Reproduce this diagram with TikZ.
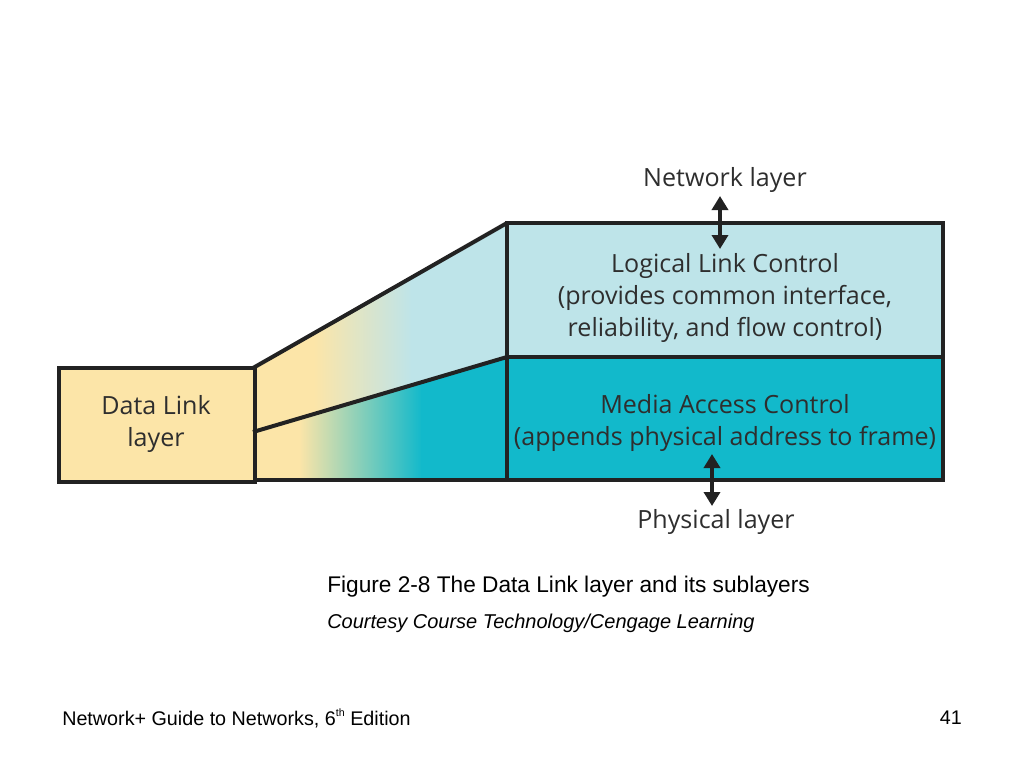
\documentclass[tikz,border=0pt]{standalone}
\usepackage{fontspec}
\setmainfont{Liberation Sans}
\newfontfamily\figfont{Open Sans}
\usetikzlibrary{arrows.meta}
\definecolor{yel}{HTML}{FCE5A8}
\definecolor{lcyan}{HTML}{BEE4E9}
\definecolor{tealc}{HTML}{12B9CB}
\definecolor{ink}{HTML}{2E2E2E}
\definecolor{edge}{HTML}{222222}
\begin{document}
\begin{tikzpicture}[x=0.75pt,y=-0.75pt,
  lbl/.style={font=\figfont\fontsize{18.8}{24.3}\selectfont, text=ink, align=center, inner sep=0pt},
  frame/.style={draw=edge, line width=3pt, line join=miter},
  biarrow/.style={{Triangle[width=12pt,length=10.5pt]}-{Triangle[width=12pt,length=10.5pt]}, line width=3pt, draw=edge},
  captext/.style={font=\fontsize{17}{20}\selectfont, anchor=west, inner sep=0pt}]
\useasboundingbox (0,0) rectangle (1024,768);
% upper trapezoid shading
\begin{scope}
  \clip (253,368) -- (507,223) -- (507,357) -- (253,432) -- cycle;
  \fill[yel] (250,220) rectangle (315,440);
  \shade[left color=yel, right color=lcyan] (314,220) rectangle (412,440);
  \fill[lcyan] (411,220) rectangle (510,440);
\end{scope}
% lower trapezoid shading
\begin{scope}
  \clip (253,432) -- (507,357) -- (507,480) -- (253,480) -- cycle;
  \fill[yel] (250,350) rectangle (300,485);
  \shade[left color=yel, right color=tealc] (299,350) rectangle (422,485);
  \fill[tealc] (421,350) rectangle (510,485);
\end{scope}
% right boxes
\fill[lcyan] (507,223) rectangle (943,357);
\fill[tealc] (507,357) rectangle (943,480);
% data link box
\node[frame, fill=yel, minimum width=196*0.75pt, minimum height=114*0.75pt, anchor=north west, inner sep=0pt] (dl) at (57,366) {};
\node[lbl] (dltext) at (156,424) {Data Link\\layer};
% outlines
\draw[frame] (253,368) -- (507,223);
\draw[frame] (253,432) -- (507,357);
\draw[frame] (253,480) -- (507,480);
\draw[frame] (507,223) rectangle (943,480);
\draw[frame] (507,357) -- (943,357);
% texts
\node[lbl] (llc) at (725,298) {Logical Link Control\\(provides common interface,\\reliability, and flow control)};
\node[lbl] (mac) at (725,423) {Media Access Control\\(appends physical address to frame)};
\node[lbl] (net) at (725,180) {Network layer};
\node[lbl] (phy) at (716,522) {Physical layer};
% arrows
\coordinate (nettop) at (720,196);
\coordinate (netbot) at (720,249);
\coordinate (phytop) at (712,454);
\coordinate (phybot) at (712,506);
\draw[biarrow] (nettop) -- (netbot);
\draw[biarrow] (phytop) -- (phybot);
% caption
\node[captext] (c1) at (327,587) {Figure 2-8 The Data Link layer and its sublayers};
\node[captext, font=\itshape\fontsize{15}{18}\selectfont] (c2) at (327,623) {Courtesy Course Technology/Cengage Learning};
\node[captext, font=\fontsize{14.8}{18}\selectfont] (foot) at (62,718) {Network+ Guide to Networks, 6\raisebox{0.45em}{\fontsize{8}{9}\selectfont th} Edition};
\node[captext, anchor=east, font=\fontsize{14.8}{18}\selectfont] (pg) at (962,718) {41};
\end{tikzpicture}
\end{document}
